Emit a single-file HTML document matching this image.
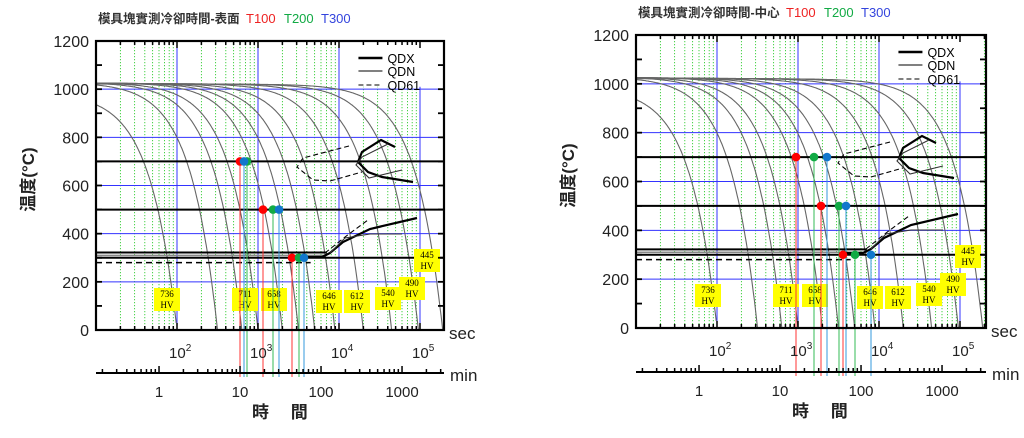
<!DOCTYPE html>
<html><head><meta charset="utf-8"><style>
html,body{margin:0;padding:0;background:#fff;}
svg{display:block;}
text{font-family:"Liberation Sans","Noto Sans CJK TC",sans-serif;}
.s{font-family:"Liberation Serif","Noto Serif CJK SC",serif;font-size:9px;}
</style></head><body>
<svg id="s" width="1024" height="438" xmlns="http://www.w3.org/2000/svg"></svg>
<script>
const S=document.getElementById('s');let out='';
function panel(p){
 const X=u=>p.x0+(u-1)*p.dec, Y=T=>p.yb-T*p.h/1200;
 const xr=p.x0+p.w, yt=p.yb-p.h, umax=1+p.w/p.dec;
 let g='';
 for(let k=1;k<=5;k++)for(let m=2;m<=9;m++){const u=k+Math.log10(m);if(u>umax)break;const x=X(u).toFixed(1);
  g+=`<line x1="${x}" y1="${yt}" x2="${x}" y2="${p.yb}" stroke="#3c3" stroke-width="0.9" stroke-dasharray="1.2,1.8"/>`;}
 for(let k=2;k<=5;k++){const x=X(k);g+=`<line x1="${x}" y1="${yt}" x2="${x}" y2="${p.yb}" stroke="#33f" stroke-width="1"/>`;}
 for(let T=200;T<=1000;T+=200){const y=Y(T);g+=`<line x1="${p.x0}" y1="${y}" x2="${xr}" y2="${y}" stroke="#33f" stroke-width="1"/>`;}
 g+=`<rect x="${X(4.1)}" y="${yt+3}" width="${xr-X(4.1)-3}" height="${Y(1010)-yt-3}" fill="#fff"/>`;
 const u0s=[2.0,2.5,2.8,3.0,3.3,3.5,3.7,3.95,4.3,4.65,4.98,5.28];
 u0s.forEach((u0,i)=>{const Tm=i==0?985:1030-i*0.8;let pts=[];
  for(let u=1;u<=Math.min(u0,umax)+0.001;u+=0.01){const T=Tm*(1-Math.pow(10,(u-u0)*1.3));if(T<0)break;pts.push(X(u).toFixed(1)+','+Y(T).toFixed(1));}
  g+=`<polyline points="${pts.join(' ')}" fill="none" stroke="#666" stroke-width="1.1"/>`;});
 g+=`<line x1="${p.x0}" y1="${Y(700)}" x2="${xr}" y2="${Y(700)}" stroke="#000" stroke-width="2"/>`;
 g+=`<line x1="${p.x0}" y1="${Y(500)}" x2="${xr}" y2="${Y(500)}" stroke="#000" stroke-width="2"/>`;
 g+=`<line x1="${p.x0}" y1="${Y(300)}" x2="${xr}" y2="${Y(300)}" stroke="#000" stroke-width="2"/>`;
 g+=`<line x1="${p.x0}" y1="${Y(322)}" x2="${X(3.85)}" y2="${Y(322)}" stroke="#000" stroke-width="2"/>`;
 g+=`<line x1="${p.x0}" y1="${Y(310)}" x2="${X(3.85)}" y2="${Y(310)}" stroke="#888" stroke-width="1.5"/>`;
 g+=`<line x1="${p.x0}" y1="${Y(280)}" x2="${X(3.65)}" y2="${Y(280)}" stroke="#000" stroke-width="1.5" stroke-dasharray="6,4"/>`;
 const d=(arr)=>arr.map(([x,y])=>(x+p.dx)+','+(y+p.dy)).join(' ');
 g+=`<polyline points="${d([[395,147],[381,140],[362,152],[358,162],[368,172],[382,177],[413,182]])}" fill="none" stroke="#000" stroke-width="2.2"/>`;
 g+=`<polyline points="${d([[388,144],[362,157],[356,165],[369,178],[402,170]])}" fill="none" stroke="#333" stroke-width="1.1"/>`;
 g+=`<polyline points="${d([[349,146],[303,158],[297,167],[313,180],[330,181],[362,172]])}" fill="none" stroke="#000" stroke-width="1.1" stroke-dasharray="5,3"/>`;
 g+=`<polyline points="${d([[300,257],[322,257],[330,253],[343,242],[370,229],[417,218]])}" fill="none" stroke="#000" stroke-width="2.2"/>`;
 g+=`<polyline points="${d([[330,253],[345,238],[370,234],[402,234]])}" fill="none" stroke="#333" stroke-width="1.1"/>`;
 g+=`<polyline points="${d([[325,253],[345,237],[368,220]])}" fill="none" stroke="#000" stroke-width="1.1" stroke-dasharray="5,3"/>`;
 p.labels.forEach(([a,b,x,y])=>{x+=p.dx;y+=p.dy;
  g+=`<rect x="${x}" y="${y}" width="26" height="23" fill="#ff0"/><text class="s" x="${x+13}" y="${y+9}" text-anchor="middle">${a}</text><text class="s" x="${x+13}" y="${y+20}" text-anchor="middle">HV</text>`;});
 const cols=['#f00','#1a4','#17c'],lc=['#f33','#3b5','#39d'];
 p.dots.forEach(([T,xs])=>{xs.forEach((x,i)=>{g+=`<line x1="${x}" y1="${Y(T)}" x2="${x}" y2="${p.ym+4}" stroke="${lc[i]}" stroke-width="1"/>`;});});
 p.dots.forEach(([T,xs])=>{xs.forEach((x,i)=>{g+=`<circle cx="${x}" cy="${Y(T)}" r="4.3" fill="${cols[i]}"/>`;});});
 g+=`<rect x="${p.x0}" y="${yt}" width="${p.w}" height="${p.h}" fill="none" stroke="#000" stroke-width="2.2"/>`;
 for(let k=1;k<=5;k++)for(let m=1;m<=9;m++){const u=k+Math.log10(m);if(u>umax||u<=1)continue;const x=X(u),L=m==1?7:4;
  g+=`<line x1="${x}" y1="${yt}" x2="${x}" y2="${yt+L}" stroke="#000" stroke-width="1.5"/><line x1="${x}" y1="${p.yb}" x2="${x}" y2="${p.yb-L}" stroke="#000" stroke-width="1.5"/>`;}
 for(let T=100;T<1200;T+=100){const y=Y(T);g+=`<line x1="${p.x0}" y1="${y}" x2="${p.x0+6}" y2="${y}" stroke="#000" stroke-width="1.8"/><line x1="${xr}" y1="${y}" x2="${xr-6}" y2="${y}" stroke="#000" stroke-width="1.8"/>`;
  if(T%200==0)g+=`<text x="${p.x0-7}" y="${y+6}" font-size="16" text-anchor="end" fill="#222">${T}</text>`;}
 g+=`<text x="${p.x0-7}" y="${p.yb+6}" font-size="16" text-anchor="end" fill="#222">0</text><text x="${p.x0-7}" y="${yt+6}" font-size="16" text-anchor="end" fill="#222">1200</text>`;
 for(let k=2;k<=5;k++)g+=`<text x="${X(k)-8}" y="${p.yb+28}" font-size="15" fill="#222">10<tspan font-size="10" dy="-7">${k}</tspan></text>`;
 g+=`<text x="${xr+5}" y="${p.yb+9}" font-size="17" fill="#222">sec</text>`;
 g+=`<line x1="${p.x0}" y1="${p.ym}" x2="${xr}" y2="${p.ym}" stroke="#000" stroke-width="2"/>`;
 for(let k=-1;k<=3;k++)for(let m=1;m<=9;m++){const u=Math.log10(60)+k+Math.log10(m);if(u>umax||u<1.02)continue;const x=X(u),L=m==1?7:4;
  g+=`<line x1="${x}" y1="${p.ym}" x2="${x}" y2="${p.ym-L}" stroke="#000" stroke-width="1.5"/>`;}
 ['1','10','100','1000'].forEach((t,k)=>{g+=`<text x="${X(Math.log10(60)+k)}" y="${p.ym+24}" font-size="15" text-anchor="middle" fill="#222">${t}</text>`;});
 g+=`<text x="${xr+6}" y="${p.ym+8}" font-size="17" fill="#222">min</text>`;
 g+=`<text x="${X(3.27)}" y="${p.ym+45}" font-size="17" text-anchor="middle" fill="#222" font-weight="bold">時　 間</text>`;
 g+=`<text transform="translate(${p.x0-62},${(yt+p.yb)/2-6}) rotate(-90)" font-size="17" font-weight="bold" text-anchor="middle" fill="#222">温度(°C)</text>`;
 g+=`<text x="${p.x0+2}" y="${yt-18}" font-size="12.5" font-weight="bold" fill="#333">${p.title}</text>`;
 g+=`<text x="${p.x0+150}" y="${yt-18}" font-size="13" fill="#e22">T100</text><text x="${p.x0+188}" y="${yt-18}" font-size="13" fill="#1a4">T200</text><text x="${p.x0+225}" y="${yt-18}" font-size="13" fill="#34d">T300</text>`;
 const lx=X(4.24),ly=yt;
 g+=`<line x1="${lx}" y1="${ly+17}" x2="${lx+24}" y2="${ly+17}" stroke="#000" stroke-width="2.5"/><text x="${lx+29}" y="${ly+22}" font-size="12.5">QDX</text>`;
 g+=`<line x1="${lx}" y1="${ly+30}" x2="${lx+24}" y2="${ly+30}" stroke="#000" stroke-width="1"/><text x="${lx+29}" y="${ly+35}" font-size="12.5">QDN</text>`;
 g+=`<line x1="${lx}" y1="${ly+44}" x2="${lx+24}" y2="${ly+44}" stroke="#000" stroke-width="1" stroke-dasharray="5,3"/><text x="${lx+29}" y="${ly+49}" font-size="12.5">QD61</text>`;
 out+=g;
}
const labels=[['736','',154,288],['711','',232,288],['658','',261,288],['646','',316,290],['612','',344,290],['540','',375,287],['490','',399,277],['445','',414,249]];
panel({x0:96,dec:81,w:348,yb:330,h:289,ym:373,dx:0,dy:0,title:'模具塊實測冷卻時間-表面',labels,
 dots:[[700,[240,247,244]],[500,[263,273,279]],[300,[292,299,304]]]});
panel({x0:636,dec:81,w:350,yb:328,h:293,ym:372,dx:541,dy:-4,title:'模具塊實測冷卻時間-中心',labels,
 dots:[[700,[796,814,827]],[500,[821,839,846]],[300,[843,855,871]]]});
S.innerHTML=out;
</script>
</body></html>
